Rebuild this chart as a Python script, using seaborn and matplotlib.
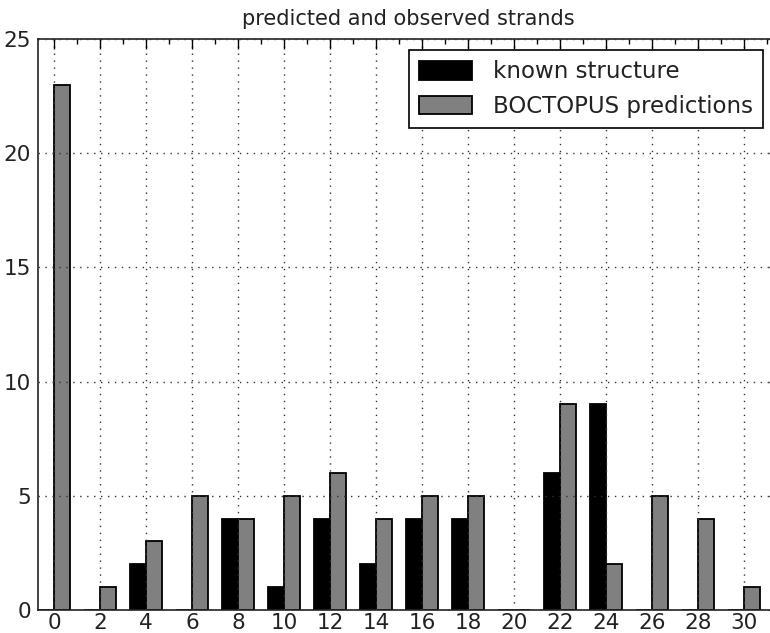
import matplotlib
matplotlib.use("Agg")
import matplotlib.pyplot as plt
from matplotlib.patches import Patch
from matplotlib.ticker import MultipleLocator
import pandas as pd
import seaborn as sns

# Number of transmembrane strands per protein
strands = [0, 2, 4, 6, 8, 10, 12, 14, 16, 18, 20, 22, 24, 26, 28, 30]
known_structure = [0, 0, 2, 0, 4, 1, 4, 2, 4, 4, 0, 6, 9, 0, 0, 0]
boctopus_predictions = [23, 1, 3, 5, 4, 5, 6, 4, 5, 5, 0, 9, 2, 5, 4, 1]
series_names = ["known structure", "BOCTOPUS predictions"]
series_colors = ["black", "#808080"]

df = pd.concat([
    pd.DataFrame({"strands": strands, "count": known_structure, "source": series_names[0]}),
    pd.DataFrame({"strands": strands, "count": boctopus_predictions, "source": series_names[1]}),
])

sns.set_style("white")
plt.rcParams["font.family"] = ["DejaVu Sans"]

fig = plt.figure(figsize=(7.7, 6.33), dpi=100)
ax = fig.add_axes([38 / 770, 23 / 633, 740.6 / 770, 571 / 633])

sns.barplot(
    data=df, x="strands", y="count", hue="source",
    hue_order=series_names, palette=series_colors,
    native_scale=True, width=0.7, gap=0, errorbar=None,
    edgecolor="black", linewidth=1.3, saturation=1,
    legend=False, ax=ax,
)

ax.set_xlim(-0.7, 31.5)
ax.set_ylim(0, 25)
ax.set_xticks(range(0, 31, 2))
ax.set_yticks(range(0, 26, 5))
ax.xaxis.set_minor_locator(MultipleLocator(1))
ax.yaxis.set_minor_locator(MultipleLocator(1))
ax.tick_params(which="both", direction="in", top=True, right=True,
               labelsize=15.5, colors="black")
ax.tick_params(which="major", length=7, width=1)
ax.tick_params(which="minor", length=3.5, width=1)
ax.tick_params(axis="x", pad=2)
ax.tick_params(axis="y", pad=5)
for lbl in ax.get_xticklabels() + ax.get_yticklabels():
    lbl.set_color("#222222")

ax.set_axisbelow(False)
ax.grid(True, which="major", linestyle=(0, (1, 4)), color="#333333", linewidth=1.0)
ax.set_xlabel("")
ax.set_ylabel("")
for s in ax.spines.values():
    s.set_color("#222222")
    s.set_linewidth(1.2)

ax.set_title("predicted and observed strands", fontsize=15, pad=10, color="#222222")

handles = [Patch(facecolor=c, edgecolor="black", linewidth=1.3) for c in series_colors]
leg = ax.legend(
    handles, series_names, loc="upper right",
    bbox_to_anchor=(763 / 770, 1 - 50 / 633), bbox_transform=fig.transFigure,
    borderaxespad=0, fontsize=16.5, frameon=True, fancybox=False,
    handlelength=2.3, handleheight=0.85, handletextpad=0.9,
    borderpad=0.45, labelspacing=0.5,
)
leg.get_frame().set_edgecolor("black")
leg.get_frame().set_linewidth(1.2)
leg.get_frame().set_alpha(1)
for t in leg.get_texts():
    t.set_color("#222222")

fig.savefig("out.png", dpi=100)
